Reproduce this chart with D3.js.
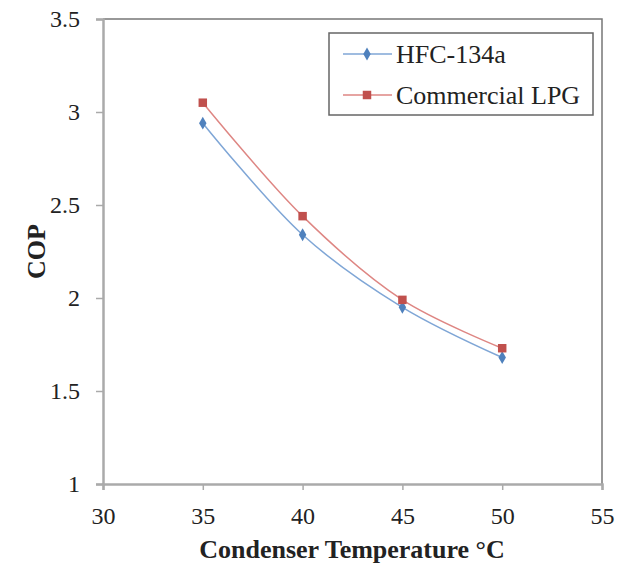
<!DOCTYPE html>
<html>
<head>
<meta charset="utf-8">
<script src="https://cdn.jsdelivr.net/npm/d3@7"></script>
<style>
  body { margin: 0; background: #fff; }
  text { font-family: "Liberation Serif", "Times New Roman", serif; fill: #222; }
</style>
</head>
<body>
<script>
// Data
const temps = [35, 40, 45, 50];
const hfcCop = [2.94, 2.34, 1.95, 1.68];
const lpgCop = [3.05, 2.44, 1.99, 1.73];
const seriesNames = ['HFC-134a', 'Commercial LPG'];
const xTicks = [30, 35, 40, 45, 50, 55];
const yTicks = [1, 1.5, 2, 2.5, 3, 3.5];

// SVG dimensions
const fullWidth = 629;
const fullHeight = 565;
const margin = { top: 19, right: 27, bottom: 81, left: 103 };
const width = fullWidth - margin.left - margin.right;
const height = fullHeight - margin.top - margin.bottom;

const svg = d3.select('body')
  .append('svg')
  .attr('width', fullWidth)
  .attr('height', fullHeight);

const g = svg.append('g')
  .attr('transform', `translate(${margin.left}, ${margin.top})`);

const x = d3.scaleLinear().domain([30, 55]).range([0, width]);
const y = d3.scaleLinear().domain([1, 3.5]).range([height, 0]);

// Frame (top and right)
g.append('path')
  .attr('d', `M0,0H${width}V${height}`)
  .attr('fill', 'none')
  .attr('stroke', '#777')
  .attr('stroke-width', 1.5);

// Axes
const xAxis = g.append('g')
  .attr('transform', `translate(0, ${height})`)
  .call(d3.axisBottom(x).tickValues(xTicks).tickSize(6).tickPadding(17));

const yAxis = g.append('g')
  .call(d3.axisLeft(y).tickValues(yTicks).tickSize(7).tickPadding(16).tickFormat(d3.format('')));

[xAxis, yAxis].forEach(ax => {
  ax.select('.domain').attr('stroke', '#aaa').attr('stroke-width', 2.5);
  ax.selectAll('.tick line').attr('stroke', '#aaa').attr('stroke-width', 1.5);
  ax.selectAll('.tick text')
    .style('font-family', '"Liberation Serif", serif')
    .style('font-size', '24px')
    .attr('fill', '#222');
});

// Axis titles
svg.append('text')
  .attr('x', 352)
  .attr('y', 558)
  .attr('text-anchor', 'middle')
  .style('font-size', '26px')
  .style('font-weight', 'bold')
  .text('Condenser Temperature °C');

svg.append('text')
  .attr('transform', `translate(45, ${margin.top + height / 2}) rotate(-90)`)
  .attr('text-anchor', 'middle')
  .style('font-size', '26px')
  .style('font-weight', 'bold')
  .text('COP');

// Series
const series = [
  { name: seriesNames[0], values: hfcCop, color: '#4F81BD', line: '#7FA6D6', symbol: d3.symbolDiamond, size: 48 },
  { name: seriesNames[1], values: lpgCop, color: '#C0504D', line: '#DE8683', symbol: d3.symbolSquare, size: 72 }
];

const line = d3.line()
  .x((d, i) => x(temps[i]))
  .y(d => y(d))
  .curve(d3.curveCatmullRom.alpha(0.5));

series.forEach(s => {
  g.append('path')
    .datum(s.values)
    .attr('fill', 'none')
    .attr('stroke', s.line)
    .attr('stroke-width', 1.5)
    .attr('d', line);

  g.selectAll(null)
    .data(s.values)
    .enter()
    .append('path')
    .attr('transform', (d, i) => `translate(${x(temps[i])}, ${y(d)})`)
    .attr('d', d3.symbol().type(s.symbol).size(s.size))
    .attr('fill', s.color);
});

// Legend
const leg = svg.append('g')
  .attr('transform', 'translate(329, 33)');

leg.append('rect')
  .attr('width', 264)
  .attr('height', 82)
  .attr('fill', '#fff')
  .attr('stroke', '#666')
  .attr('stroke-width', 1.5);

series.forEach((s, i) => {
  const row = leg.append('g').attr('transform', `translate(0, ${21 + i * 41})`);
  row.append('line')
    .attr('x1', 14).attr('x2', 63)
    .attr('stroke', s.line)
    .attr('stroke-width', 1.5);
  row.append('path')
    .attr('transform', 'translate(38, 0)')
    .attr('d', d3.symbol().type(s.symbol).size(s.size))
    .attr('fill', s.color);
  row.append('text')
    .attr('x', 67)
    .attr('y', 9)
    .style('font-size', '26px')
    .text(s.name);
});
</script>
</body>
</html>
